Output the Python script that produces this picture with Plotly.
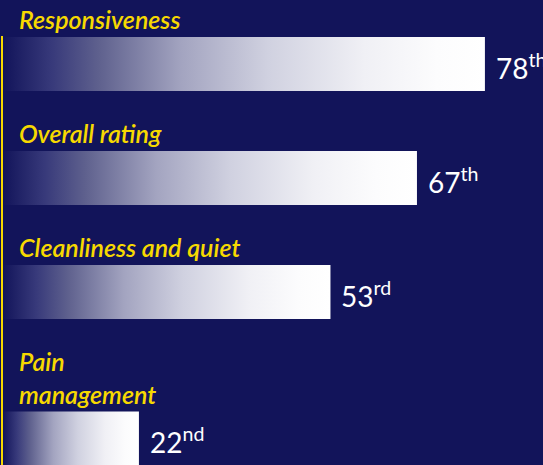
import plotly.graph_objects as go

# data
categories = ["Responsiveness", "Overall rating", "Cleanliness and quiet", "Pain<br>management"]
percentiles = [78, 67, 53, 22]
suffixes = ["th", "th", "rd", "nd"]

bg = "#12145a"
gold = "#f7d900"
grad = [[0.0, bg], [0.1, "#37397a"], [0.2, "#5f618e"], [0.37, "#a3a4c0"],
        [0.55, "#d0d1e0"], [0.75, "#f0f0f5"], [0.9, "#fcfcfd"], [1.0, "#ffffff"]]

bar_h = 1.0       # bar thickness (y units)
pitch = 2.11      # bar-to-bar step for a one-line label
line_extra = 0.6  # extra room per additional label line

fig = go.Figure()
pos = 0.02
for i, (cat, v) in enumerate(zip(categories, percentiles)):
    pos += line_extra * cat.count("<br>")
    top, bot = pos, pos + bar_h
    fig.add_trace(go.Scatter(
        x=[0, v, v, 0, 0], y=[top, top, bot, bot, top],
        mode="lines", line=dict(width=0), fill="toself",
        fillgradient=dict(type="horizontal", colorscale=grad),
        hoverinfo="skip", showlegend=False))
    fig.add_annotation(x=0, y=top, xref="x", yref="y", text=cat,
                       xanchor="left", yanchor="bottom", align="left",
                       xshift=14, yshift=1, showarrow=False,
                       font=dict(family="Lato", size=25, color=gold,
                                 style="italic", weight=600))
    fig.add_annotation(x=v, y=top + bar_h / 2, xref="x", yref="y",
                       text=f"{v}<sup>{suffixes[i]}</sup>",
                       xanchor="left", yanchor="middle", xshift=9, yshift=-2,
                       showarrow=False,
                       font=dict(family="Lato", size=28, color="white"))
    pos += pitch

fig.update_xaxes(range=[0, 87.4], visible=False, fixedrange=True)
fig.update_yaxes(range=[7.94, 0], showgrid=False, zeroline=False, showticklabels=False,
                 showline=True, linecolor=gold, linewidth=2, fixedrange=True)
fig.update_layout(width=543, height=465, margin=dict(l=3, r=0, t=36, b=0),
                  paper_bgcolor=bg, plot_bgcolor=bg, showlegend=False)

fig.write_html("out.html", config={"displayModeBar": False},
               post_script="document.body.style.margin='0';document.body.style.background='%s';" % bg)
